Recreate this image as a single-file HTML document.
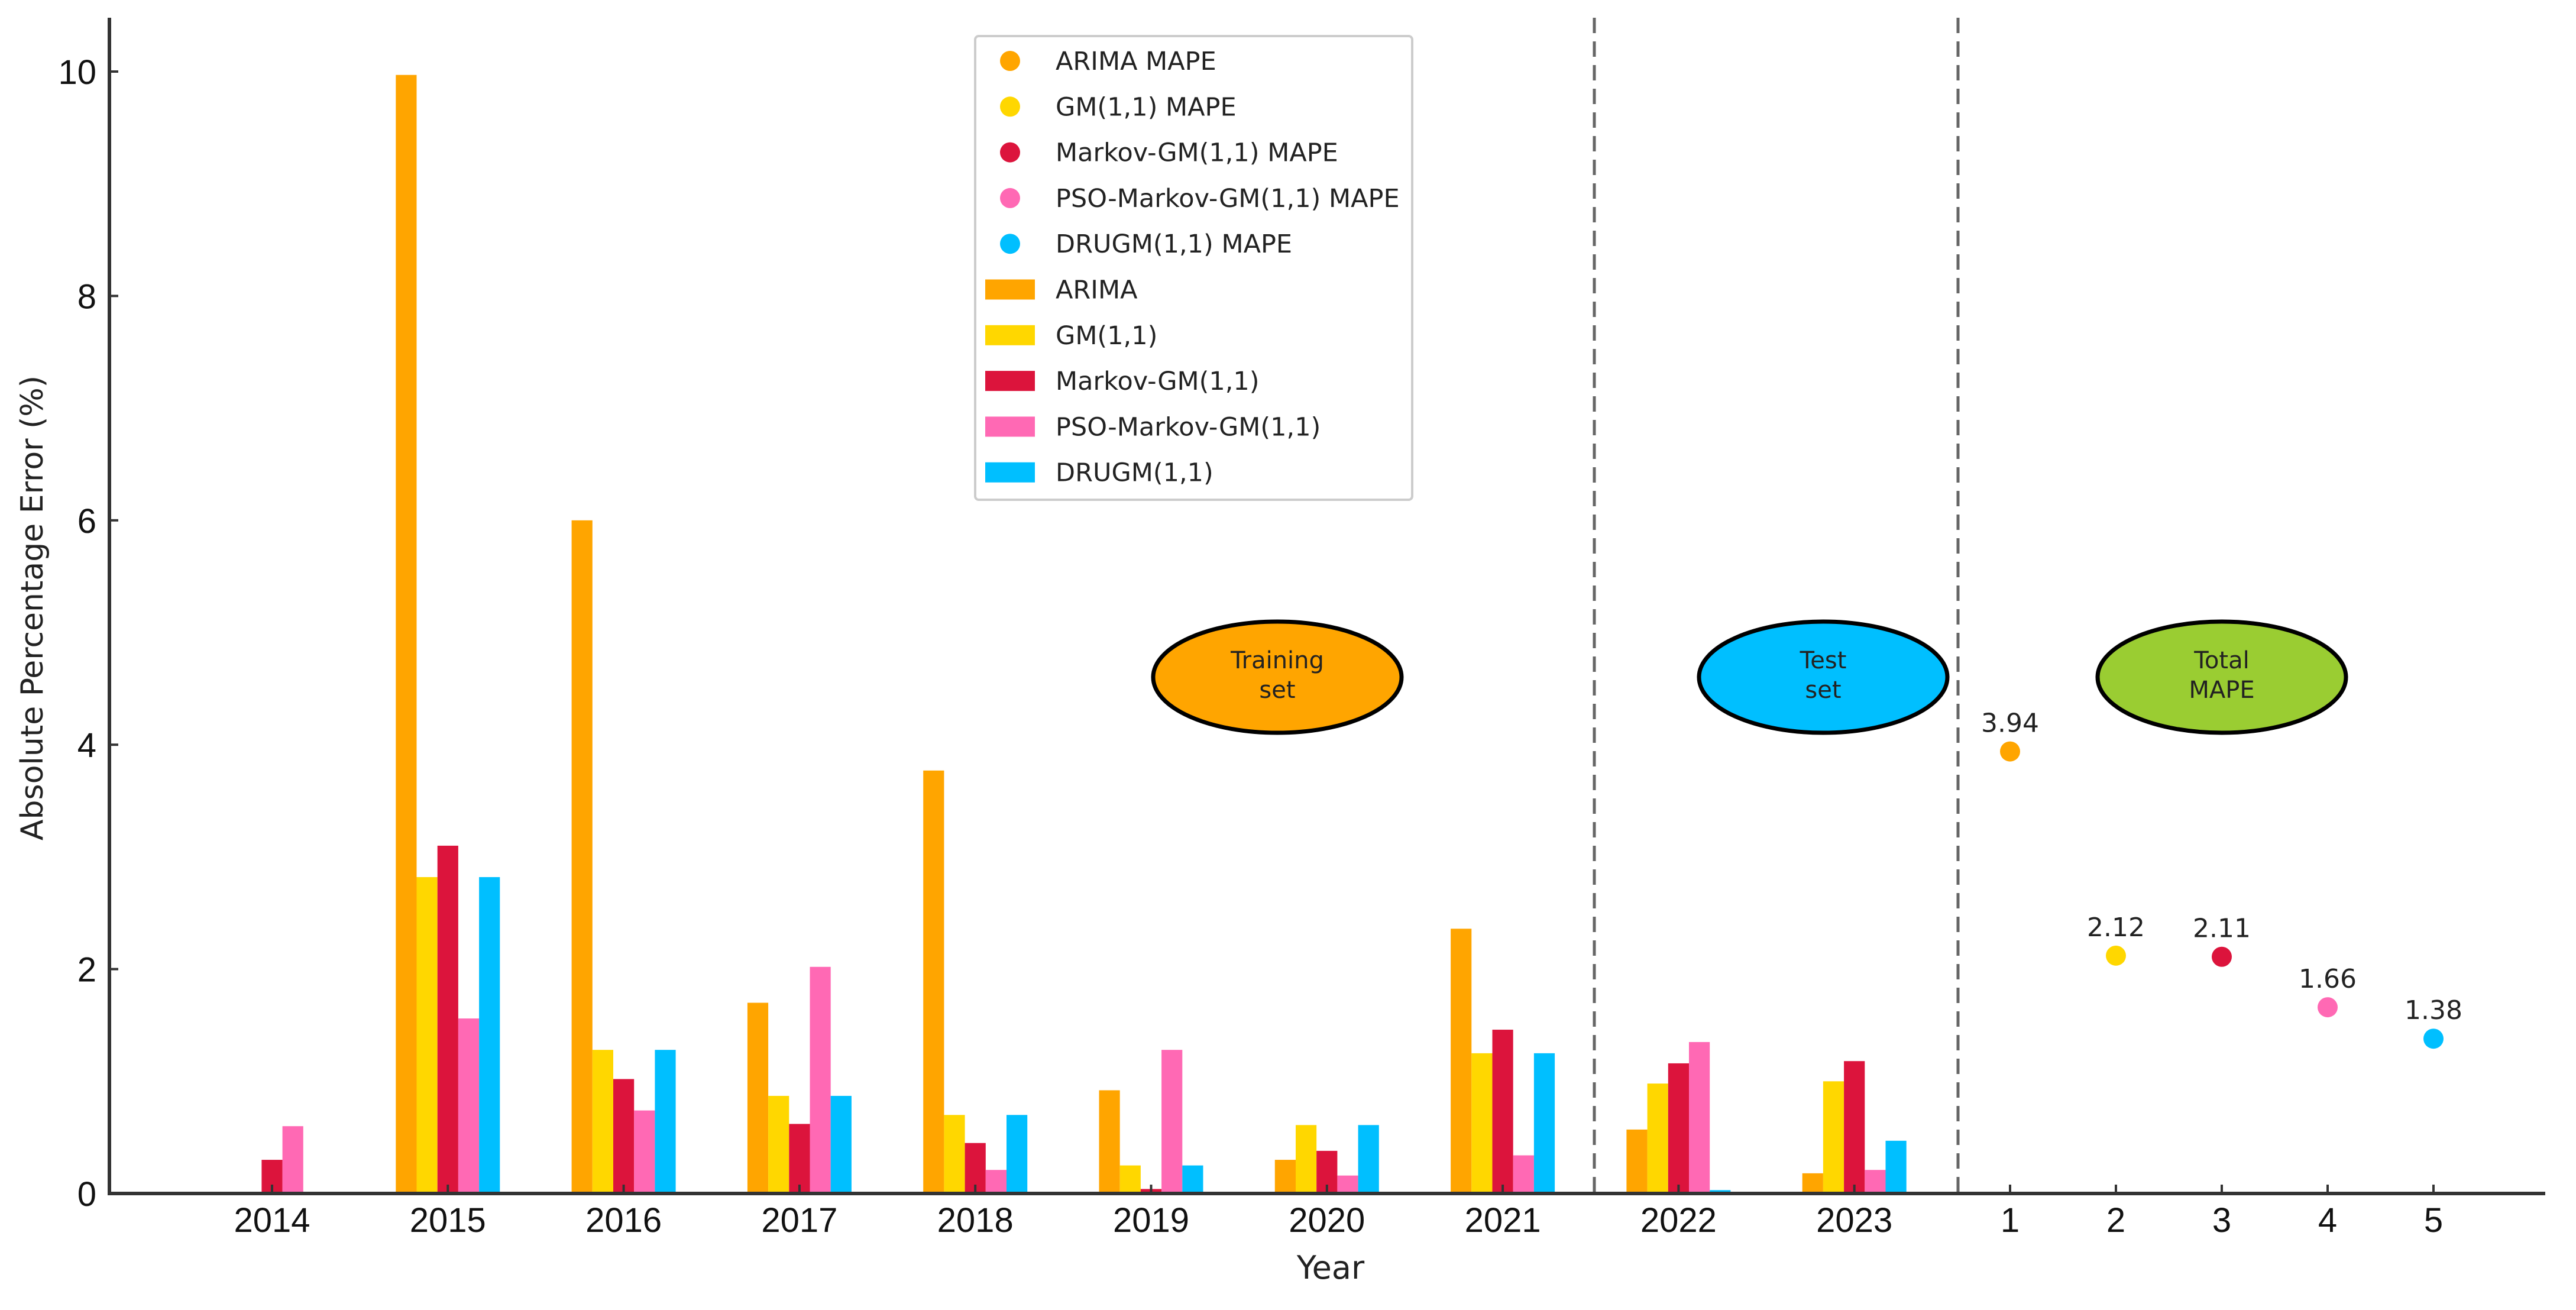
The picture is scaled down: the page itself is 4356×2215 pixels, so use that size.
<!DOCTYPE html>
<html><head><meta charset="utf-8"><style>
html,body{margin:0;padding:0;background:#fff}
svg{display:block}
text{font-family:"DejaVu Sans","Liberation Sans",sans-serif;fill:#222}
.tick{font-family:"Liberation Sans",sans-serif;font-size:58px;fill:#111}
</style></head><body>
<svg id="chart" width="4356" height="2215" viewBox="0 0 4356 2215" xmlns="http://www.w3.org/2000/svg">
<g id="plot"></g>
</svg>
<script>
const years = ['2014','2015','2016','2017','2018','2019','2020','2021','2022','2023'];
const seriesNames = ['ARIMA','GM(1,1)','Markov-GM(1,1)','PSO-Markov-GM(1,1)','DRUGM(1,1)'];
const arima  = [0, 9.97, 6.0, 1.70, 3.77, 0.92, 0.30, 2.36, 0.57, 0.18];
const gm     = [0, 2.82, 1.28, 0.87, 0.70, 0.25, 0.61, 1.25, 0.98, 1.00];
const markov = [0.30, 3.10, 1.02, 0.62, 0.45, 0.04, 0.38, 1.46, 1.16, 1.18];
const pso    = [0.60, 1.56, 0.74, 2.02, 0.21, 1.28, 0.16, 0.34, 1.35, 0.21];
const drugm  = [0, 2.82, 1.28, 0.87, 0.70, 0.25, 0.61, 1.25, 0.03, 0.47];
const mapeLabels = ['1','2','3','4','5'];
const mapeValues = [3.94, 2.12, 2.11, 1.66, 1.38];
const yTicks = [0, 2, 4, 6, 8, 10];

const colors = ['#FFA500','#FFD700','#DC143C','#FF69B4','#00BFFF'];
const NS = 'http://www.w3.org/2000/svg';
const g = document.getElementById('plot');
function el(tag, attrs, parent){const e=document.createElementNS(NS,tag);for(const k in attrs)e.setAttribute(k,attrs[k]);(parent||g).appendChild(e);return e;}
const y0 = 2018, pxPerUnit = 189.7;
function yScale(v){return y0 - v*pxPerUnit;}
function xYear(i){return 460 + i*297.3;}
function xMape(j){return 3399 + j*179;}
const barW = 35.2;
const allSeries = [arima, gm, markov, pso, drugm];

// bars
allSeries.forEach((s, si) => {
  s.forEach((v, i) => {
    if (v <= 0) return;
    const x = xYear(i) + (si - 2.5) * barW;
    const r = el('rect', {x:x, y:yScale(v), width:barW, height:y0 - yScale(v), fill:colors[si]});
    
    
  });
});

// dashed separators
[2696, 3311].forEach((x, k) => {
  const l = el('line', {x1:x, x2:x, y1:30, y2:y0, stroke:'#666', 'stroke-width':5, 'stroke-dasharray':'26,14'});
  
  
});

// MAPE points
mapeValues.forEach((v, j) => {
  const c = el('circle', {cx:xMape(j), cy:yScale(v), r:17, fill:colors[j]});
  
  
  const t = el('text', {x:xMape(j), y:yScale(v) - 33, 'text-anchor':'middle', 'font-size':44});
  t.textContent = v.toFixed(2);
  
  
});

// axes
const ax = el('path', {d:'M185 30 V'+y0+' H4304', stroke:'#333', 'stroke-width':6, fill:'none'});



yTicks.forEach(v => {
  const yy = yScale(v);
  el('line', {x1:185, x2:200, y1:yy, y2:yy, stroke:'#333', 'stroke-width':4});
  const t = el('text', {x:163, y:yy + 21, 'text-anchor':'end', class:'tick'});
  t.textContent = v;
  
  
});
years.forEach((yr, i) => {
  const x = xYear(i);
  el('line', {x1:x, x2:x, y1:y0, y2:y0 - 15, stroke:'#333', 'stroke-width':4});
  const t = el('text', {x:x, y:2083, 'text-anchor':'middle', class:'tick'});
  t.textContent = yr;
  
  
});
mapeLabels.forEach((lb, j) => {
  const x = xMape(j);
  el('line', {x1:x, x2:x, y1:y0, y2:y0 - 15, stroke:'#333', 'stroke-width':4});
  const t = el('text', {x:x, y:2083, 'text-anchor':'middle', class:'tick'});
  t.textContent = lb;
  
  
});

// axis titles
const yt = el('text', {x:0, y:0, 'text-anchor':'middle', 'font-size':52, transform:'translate(72,1028) rotate(-90)'});
yt.textContent = 'Absolute Percentage Error (%)';


const xt = el('text', {x:2250, y:2162, 'text-anchor':'middle', 'font-size':54});
xt.textContent = 'Year';



// ellipses
const ellipses = [
  {cx:2160, fill:'#FFA500', l1:'Training', l2:'set', name:'training-set-label'},
  {cx:3083, fill:'#00BFFF', l1:'Test', l2:'set', name:'test-set-label'},
  {cx:3757, fill:'#9ACD32', l1:'Total', l2:'MAPE', name:'total-mape-label'}
];
ellipses.forEach(e => {
  const grp = el('g', {});
  
  
  el('ellipse', {cx:e.cx, cy:1145, rx:210, ry:94, fill:e.fill, stroke:'#000', 'stroke-width':7}, grp);
  const a = el('text', {x:e.cx, y:1130, 'text-anchor':'middle', 'font-size':40, fill:'#333'}, grp); a.textContent = e.l1;
  const b = el('text', {x:e.cx, y:1180, 'text-anchor':'middle', 'font-size':40, fill:'#333'}, grp); b.textContent = e.l2;
});

// legend
const lg = el('g', {});


el('rect', {x:1649, y:61, width:739, height:784, rx:6, fill:'#fff', stroke:'#ccc', 'stroke-width':4}, lg);
const legendLabels = ['ARIMA MAPE','GM(1,1) MAPE','Markov-GM(1,1) MAPE','PSO-Markov-GM(1,1) MAPE','DRUGM(1,1) MAPE'].concat(seriesNames);
legendLabels.forEach((lb, k) => {
  const yy = 103 + k*77.3;
  const ent = el('g', {}, lg);
  
  
  if (k < 5) el('circle', {cx:1708, cy:yy, r:17, fill:colors[k]}, ent);
  else el('rect', {x:1666, y:yy - 17, width:84, height:34, fill:colors[k-5]}, ent);
  const t = el('text', {x:1785, y:yy + 15, 'font-size':43}, ent);
  t.textContent = lb;
});
</script>
</body></html>
